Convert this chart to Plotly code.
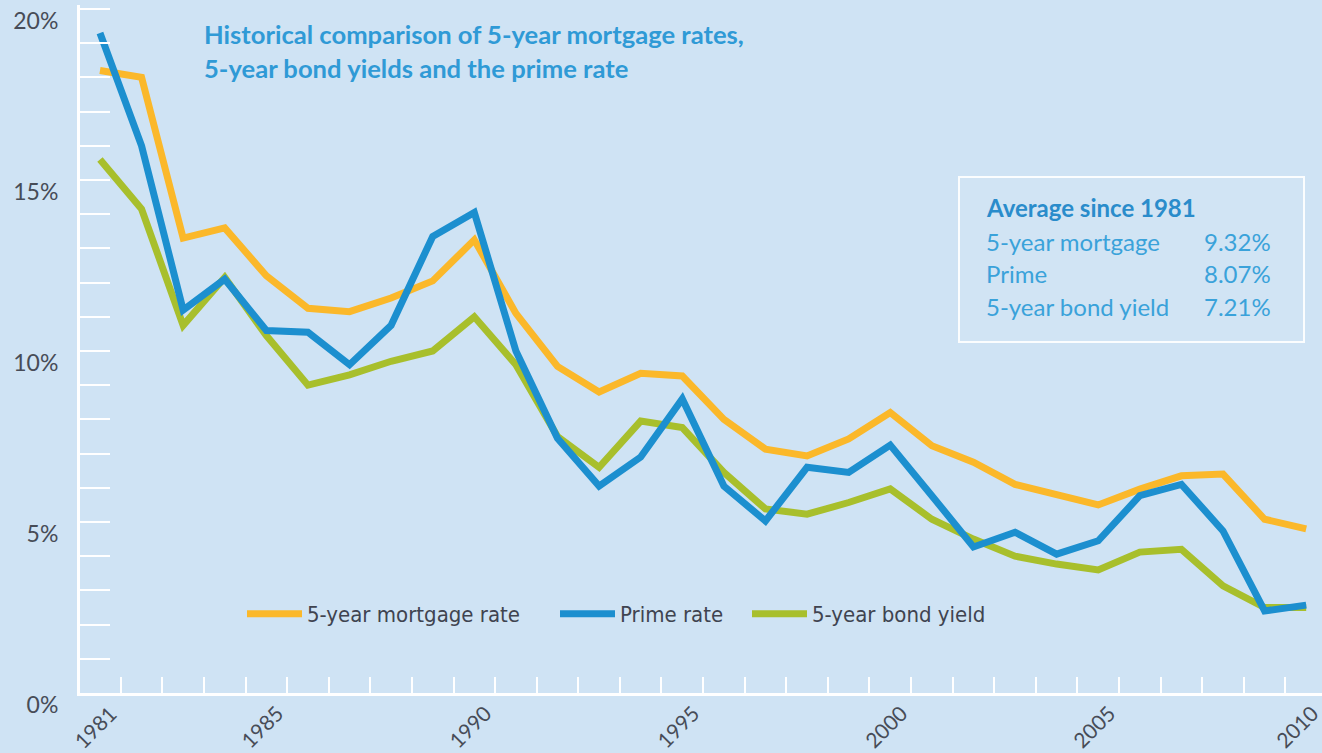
import plotly.graph_objects as go

years = [1981, 1982, 1983, 1984, 1985, 1986, 1987, 1988, 1989, 1990,
         1991, 1992, 1993, 1994, 1995, 1996, 1997, 1998, 1999, 2000,
         2001, 2002, 2003, 2004, 2005, 2006, 2007, 2008, 2009, 2010]

mortgage = [18.2, 18.0, 13.3, 13.6, 12.2, 11.25, 11.15, 11.55, 12.05, 13.25,
            11.1, 9.55, 8.8, 9.35, 9.27, 8.0, 7.13, 6.93, 7.43, 8.2,
            7.23, 6.75, 6.1, 5.8, 5.5, 5.96, 6.35, 6.4, 5.08, 4.8]
prime = [19.3, 16.0, 11.2, 12.1, 10.6, 10.55, 9.6, 10.75, 13.35, 14.05,
         10.0, 7.45, 6.05, 6.9, 8.6, 6.05, 5.03, 6.6, 6.45, 7.25,
         5.77, 4.27, 4.7, 4.06, 4.45, 5.77, 6.1, 4.74, 2.4, 2.57]
bond = [15.6, 14.15, 10.75, 12.15, 10.45, 9.0, 9.3, 9.7, 10.0, 11.0,
        9.6, 7.5, 6.6, 7.95, 7.76, 6.45, 5.38, 5.23, 5.57, 5.97,
        5.08, 4.5, 4.0, 3.77, 3.6, 4.12, 4.2, 3.13, 2.5, 2.5]

series_names = ["5-year mortgage rate", "Prime rate", "5-year bond yield"]
colors = ["#fbb82a", "#1c8fcf", "#a8bf2c"]

x_label_years = [1981, 1985, 1990, 1995, 2000, 2005, 2010]
y_label_vals = [0, 5, 10, 15, 20]
y_label_text = ["0%", "5%", "10%", "15%", "20%"]

title_lines = ["Historical comparison of 5-year mortgage rates,",
               "5-year bond yields and the prime rate"]
avg_title = "Average since 1981"
avg_labels = ["5-year mortgage", "Prime", "5-year bond yield"]
avg_values = ["9.32%", "8.07%", "7.21%"]

BG = "#cfe3f4"
W, H = 1322, 753
ML, MR, MT, MB = 80, 0, 5, 60
PW, PH = W - ML - MR, H - MT - MB


def px(xp):
    return (xp - ML) / PW


def py(yp):
    return (H - MB - yp) / PH


fig = go.Figure()

legend_ids = ["legend", "legend2", "legend3"]
legend_x = [242, 555, 747]
order = [2, 0, 1]  # draw bond, mortgage, then prime on top
data = [mortgage, prime, bond]
for i in order:
    fig.add_trace(go.Scatter(
        x=years, y=data[i], mode="lines", name=series_names[i],
        line=dict(color=colors[i], width=7, shape="linear"),
        legend=legend_ids[i], hoverinfo="skip",
    ))

ann = []
title_font = dict(family="Lato, Open Sans, sans-serif", size=25.6, color="#2f9ad6",
                  weight=700)
for k, t in enumerate(title_lines):
    ann.append(dict(text=t, x=px(202), y=py(34 + 34 * k),
                    xref="paper", yref="paper", xanchor="left", yanchor="middle",
                    showarrow=False, font=title_font))

box_font = dict(family="Lato, Open Sans, sans-serif", size=24, color="#3aa2da")
ann.append(dict(text=avg_title, x=px(984), y=py(208),
                xref="paper", yref="paper", xanchor="left", yanchor="middle",
                showarrow=False,
                font=dict(family="Lato, Open Sans, sans-serif", size=24,
                          color="#2a8ccb", weight=700)))
for k, (lab, val) in enumerate(zip(avg_labels, avg_values)):
    yy = py(241 + 32.5 * k)
    ann.append(dict(text=lab, x=px(984), y=yy, xref="paper", yref="paper",
                    xanchor="left", yanchor="middle", showarrow=False, font=box_font))
    ann.append(dict(text=val, x=px(1273), y=yy, xref="paper", yref="paper",
                    xanchor="right", yanchor="middle", showarrow=False, font=box_font))

# x-axis year labels, rotated, hanging just below the axis
axis_font = dict(family="Lato, Open Sans, sans-serif", size=23, color="#474c57")
for yr in x_label_years:
    ann.append(dict(text=str(yr), x=yr, xref="x", y=py(726), yref="paper",
                    xanchor="center", yanchor="middle", textangle=-45,
                    xshift=-5 if yr < 2010 else -10, showarrow=False,
                    font=dict(axis_font, size=21)))

fig.add_shape(type="rect", xref="paper", yref="paper",
              x0=px(959), x1=px(1304), y0=py(342), y1=py(177),
              line=dict(color="rgba(255,255,255,0.9)", width=2),
              fillcolor="rgba(255,255,255,0.05)", layer="below")

legend_font = dict(family="Liberation Sans Narrow, DejaVu Sans Condensed, Roboto, sans-serif",
                   size=22, color="#3f4450")

legend_common = dict(orientation="h", yanchor="middle", xanchor="left",
                     bgcolor="rgba(0,0,0,0)", itemwidth=55, font=legend_font)
legends = {}
for lid, lx in zip(legend_ids, legend_x):
    legends[lid] = dict(x=px(lx), y=py(614), **legend_common)

fig.update_layout(
    width=W, height=H,
    margin=dict(l=ML, r=MR, t=MT, b=MB, pad=0, autoexpand=False),
    paper_bgcolor=BG, plot_bgcolor=BG,
    showlegend=True,
    annotations=ann,
    xaxis=dict(
        range=[1980.52, 2010.38], showgrid=False, zeroline=False, automargin=False,
        showline=True, linecolor="white", linewidth=3,
        tickmode="array", tickvals=x_label_years, showticklabels=False,
        ticks="",
        minor=dict(tick0=1981.5, dtick=1, ticks="inside", ticklen=16,
                   tickcolor="white", tickwidth=2, showgrid=False),
    ),
    yaxis=dict(
        range=[0, PH / 34.2], showgrid=False, zeroline=False, automargin=False,
        showline=True, linecolor="white", linewidth=3,
        tickmode="array", tickvals=y_label_vals, ticktext=y_label_text,
        ticks="inside", ticklen=30, tickcolor="white", tickwidth=2,
        tickfont=axis_font, ticklabelstandoff=14, ticklabelshift=12,
        minor=dict(tick0=0, dtick=1, ticks="inside", ticklen=30,
                   tickcolor="white", tickwidth=2, showgrid=False),
    ),
    **legends,
)

fig.write_html("out.html", config={"displayModeBar": False},
               post_script="document.body.style.margin='0px';")
